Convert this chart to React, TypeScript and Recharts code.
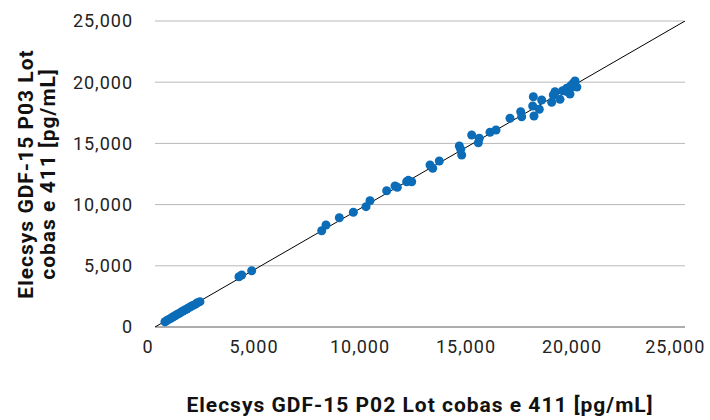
import { ScatterChart, Scatter, XAxis, YAxis, ZAxis, CartesianGrid } from "recharts";

// P02 lot (x) vs P03 lot (y), pg/mL
const p02 = [
  470, 560, 650, 740, 820, 900, 980, 1060, 1150, 1230, 1320, 1400, 1500, 1580, 1680, 1780, 1900, 2000, 2120,
  3962, 4090, 4561,
  7863, 8066, 8695, 9355, 9953, 10141, 10928, 11321, 11430, 11871, 11950, 12108,
  12972, 13099, 13410, 14354, 14420, 14467, 14939, 15297, 15250, 15802, 16085,
  16745, 17250, 17296, 17846, 17815, 17877, 18128, 18239, 18711, 18788, 18868, 19104,
  19231, 19420, 19575, 19655, 19731, 19811, 19400, 19600, 19900,
];
const p03 = [
  430, 520, 620, 700, 800, 880, 960, 1050, 1120, 1220, 1300, 1380, 1470, 1560, 1650, 1760, 1850, 1980, 2070,
  4110, 4248, 4600,
  7868, 8333, 8930, 9370, 9830, 10319, 11136, 11520, 11413, 11871, 11980, 11871,
  13235, 12966, 13562, 14788, 14518, 14052, 15686, 15417, 15057, 15907, 16095,
  17050, 17590, 17181, 18815, 18055, 17238, 17786, 18545, 18357, 18954, 19224, 18600,
  19305, 19502, 19035, 19632, 19910, 20098, 19250, 19700, 19600,
];
const ticks = [0, 5000, 10000, 15000, 20000, 25000];
const xTitle = "Elecsys GDF-15 P02 Lot cobas e 411 [pg/mL]";
const yTitle = ["Elecsys GDF-15 P03 Lot", "cobas e 411 [pg/mL]"];

const points = p02.map((x, i) => ({ x, y: p03[i] }));
const identity = [
  { x: 0, y: 0 },
  { x: 25000, y: 25000 },
];

const fmt = (v: number) => v.toLocaleString("en-US");
const tickStyle = { fontSize: 18, fill: "#222", fontFamily: "Roboto", letterSpacing: 1 };
const titleFont = { fontFamily: "Roboto", fontWeight: "bold", fontSize: 21, letterSpacing: 1, fill: "#111" };

function YTitle(props: any) {
  const vb = props.viewBox || {};
  const cx = 36;
  const cy = vb.y + vb.height / 2;
  return (
    <text transform={`rotate(-90, ${cx}, ${cy})`} x={cx} y={cy} textAnchor="middle" style={titleFont}>
      <tspan x={cx} dy={-3}>{yTitle[0]}</tspan>
      <tspan x={cx} dy={22}>{yTitle[1]}</tspan>
    </text>
  );
}

function XTitle(props: any) {
  const vb = props.viewBox || {};
  return (
    <text x={vb.x + vb.width / 2} y={vb.y + 85} textAnchor="middle" style={titleFont}>
      {xTitle}
    </text>
  );
}

export default function App() {
  return (
    <div style={{ position: "absolute", left: 0, top: 0, background: "#fff" }}>
      <ScatterChart width={710} height={420} margin={{ top: 21, right: 25, bottom: 0, left: 0 }}>
        <CartesianGrid vertical={false} stroke="#b8b8b8" />
        <XAxis
          type="number"
          dataKey="x"
          domain={[0, 25000]}
          ticks={ticks}
          tickFormatter={fmt}
          tick={{ ...tickStyle, dx: -7 }}
          fontSize={18}
          tickLine={false}
          tickSize={0}
          tickMargin={13}
          axisLine={{ stroke: "#7f7f7f" }}
          height={93}
          label={<XTitle />}
          allowDataOverflow
        />
        <YAxis
          type="number"
          dataKey="y"
          domain={[0, 25000]}
          ticks={ticks}
          tickFormatter={fmt}
          tick={tickStyle}
          fontSize={18}
          tickLine={false}
          tickSize={0}
          tickMargin={22}
          axisLine={false}
          width={155}
          label={<YTitle />}
          allowDataOverflow
        />
        <ZAxis range={[56, 56]} />
        <Scatter
          data={identity}
          line={{ stroke: "#000", strokeWidth: 1 }}
          shape={() => null}
          isAnimationActive={false}
        />
        <Scatter data={points} fill="#0b6cb8" isAnimationActive={false} />
      </ScatterChart>
    </div>
  );
}
